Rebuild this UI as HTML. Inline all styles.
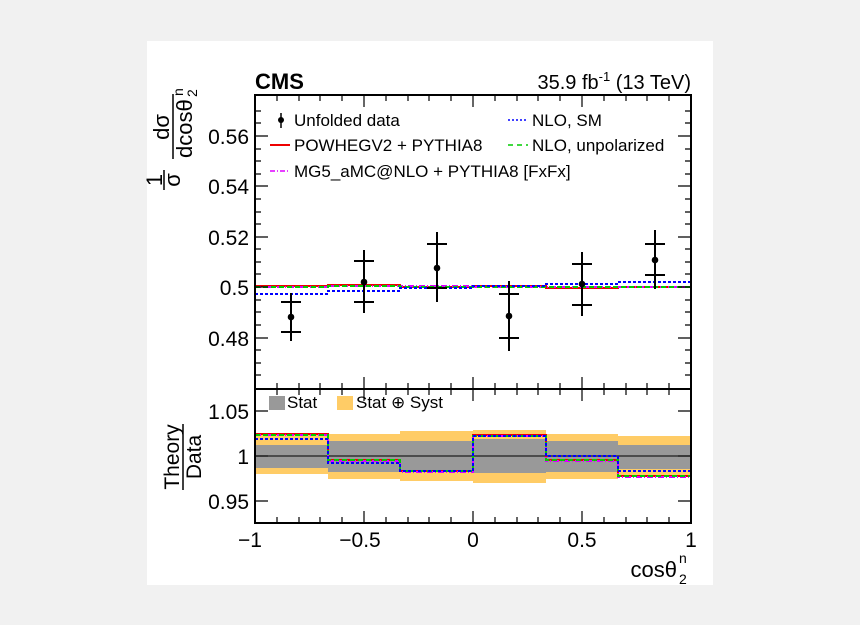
<!DOCTYPE html>
<html><head><meta charset="utf-8"><style>
html,body{margin:0;padding:0;background:#f1f1f1;}
svg{display:block;font-family:"Liberation Sans",sans-serif;}
</style></head><body>
<svg width="860" height="625" viewBox="0 0 860 625" xmlns="http://www.w3.org/2000/svg">
<rect x="0" y="0" width="860" height="625" fill="#f1f1f1"/>
<rect x="147" y="41" width="566" height="544" fill="#fff"/>

<g>
<rect x="255" y="433" width="73" height="41" fill="#ffcc66"/><rect x="255" y="445" width="73" height="23" fill="#999"/>
<rect x="328" y="434" width="72" height="45" fill="#ffcc66"/><rect x="328" y="441" width="72" height="31" fill="#999"/>
<rect x="400" y="431" width="73" height="50" fill="#ffcc66"/><rect x="400" y="441" width="73" height="31" fill="#999"/>
<rect x="473" y="430" width="73" height="53" fill="#ffcc66"/><rect x="473" y="439" width="73" height="34" fill="#999"/>
<rect x="546" y="434" width="72" height="45" fill="#ffcc66"/><rect x="546" y="441" width="72" height="31" fill="#999"/>
<rect x="618" y="436" width="73" height="41" fill="#ffcc66"/><rect x="618" y="445" width="73" height="24" fill="#999"/>
</g>
<line x1="255" y1="456" x2="691" y2="456" stroke="#000" stroke-width="1"/>
<polyline points="255,434 328,434 328,460 400,460 400,471 473,471 473,435 546,435 546,460 618,460 618,476 691,476" fill="none" stroke="#e00" stroke-width="2"/>
<polyline points="255,435 328,435 328,461 400,461 400,472 473,472 473,436 546,436 546,461 618,461 618,477 691,477" fill="none" stroke="#d0f" stroke-width="2" stroke-dasharray="6,2,1,2"/>
<polyline points="255,435 328,435 328,460 400,460 400,471 473,471 473,436 546,436 546,460 618,460 618,476 691,476" fill="none" stroke="#0c0" stroke-width="2" stroke-dasharray="5,3"/>
<polyline points="255,439 328,439 328,463 400,463 400,471 473,471 473,436 546,436 546,456 618,456 618,471 691,471" fill="none" stroke="#00f" stroke-width="2" stroke-dasharray="3,2"/>

<polyline points="255,286 328,286 328,285 400,285 400,287 473,287 473,286 546,286 546,288 618,288 618,287 691,287" fill="none" stroke="#e00" stroke-width="2"/>
<polyline points="255,287 328,287 328,286 400,286 400,286 473,286 473,287 546,287 546,287 618,287 618,287 691,287" fill="none" stroke="#d0f" stroke-width="2" stroke-dasharray="6,2,1,2"/>
<polyline points="255,287 328,287 328,286 400,286 400,287 473,287 473,287 546,287 546,287 618,287 618,287 691,287" fill="none" stroke="#0c0" stroke-width="2" stroke-dasharray="5,3"/>
<polyline points="255,294 328,294 328,291 400,291 400,288 473,288 473,286 546,286 546,284 618,284 618,282 691,282" fill="none" stroke="#00f" stroke-width="2" stroke-dasharray="3,2"/>

<g stroke="#000" stroke-width="2">
<line x1="291" y1="293" x2="291" y2="341"/><line x1="281" y1="302" x2="301" y2="302"/><line x1="281" y1="332" x2="301" y2="332"/>
<line x1="364" y1="250" x2="364" y2="313"/><line x1="354" y1="261" x2="374" y2="261"/><line x1="354" y1="302" x2="374" y2="302"/>
<line x1="437" y1="232" x2="437" y2="302"/><line x1="427" y1="244" x2="447" y2="244"/><line x1="427" y1="288" x2="447" y2="288"/>
<line x1="509" y1="281" x2="509" y2="351"/><line x1="499" y1="294" x2="519" y2="294"/><line x1="499" y1="338" x2="519" y2="338"/>
<line x1="582" y1="252" x2="582" y2="316"/><line x1="572" y1="264" x2="592" y2="264"/><line x1="572" y1="305" x2="592" y2="305"/>
<line x1="655" y1="230" x2="655" y2="289"/><line x1="645" y1="244" x2="665" y2="244"/><line x1="645" y1="275" x2="665" y2="275"/>
</g>
<g fill="#000"><circle cx="291" cy="317" r="3.3"/><circle cx="364" cy="282" r="3.3"/><circle cx="437" cy="268" r="3.3"/><circle cx="509" cy="316" r="3.3"/><circle cx="582" cy="284" r="3.3"/><circle cx="655" cy="260" r="3.3"/></g>

<g stroke="#000" stroke-width="1.2">
<path d="M364,95v12M473,95v12M582,95v12M364,389v-12M473,389v-12M582,389v-12M364,389v12M473,389v12M582,389v12M364,523v-12M473,523v-12M582,523v-12"/>
<path d="M277,95v6M299,95v6M320,95v6M342,95v6M386,95v6M408,95v6M429,95v6M451,95v6M495,95v6M517,95v6M538,95v6M560,95v6M604,95v6M626,95v6M647,95v6M669,95v6
M277,389v-6M299,389v-6M320,389v-6M342,389v-6M386,389v-6M408,389v-6M429,389v-6M451,389v-6M495,389v-6M517,389v-6M538,389v-6M560,389v-6M604,389v-6M626,389v-6M647,389v-6M669,389v-6
M277,389v6M299,389v6M320,389v6M342,389v6M386,389v6M408,389v6M429,389v6M451,389v6M495,389v6M517,389v6M538,389v6M560,389v6M604,389v6M626,389v6M647,389v6M669,389v6
M277,523v-6M299,523v-6M320,523v-6M342,523v-6M386,523v-6M408,523v-6M429,523v-6M451,523v-6M495,523v-6M517,523v-6M538,523v-6M560,523v-6M604,523v-6M626,523v-6M647,523v-6M669,523v-6"/>
<path d="M255,136h13M255,186h13M255,237h13M255,287h13M255,338h13M691,136h-13M691,186h-13M691,237h-13M691,287h-13M691,338h-13
M255,111h6M255,123h6M255,149h6M255,161h6M255,174h6M255,199h6M255,212h6M255,224h6M255,249h6M255,262h6M255,274h6M255,300h6M255,312h6M255,325h6M255,350h6M255,363h6M255,375h6
M691,111h-6M691,123h-6M691,149h-6M691,161h-6M691,174h-6M691,199h-6M691,212h-6M691,224h-6M691,249h-6M691,262h-6M691,274h-6M691,300h-6M691,312h-6M691,325h-6M691,350h-6M691,363h-6M691,375h-6"/>
<path d="M255,411h13M255,456h13M255,501h13M691,411h-13M691,456h-13M691,501h-13"/>
</g>
<rect x="255" y="95" width="436" height="294" fill="none" stroke="#000" stroke-width="2"/>
<rect x="255" y="389" width="436" height="134" fill="none" stroke="#000" stroke-width="2"/>

<text x="255" y="89" font-size="22" font-weight="bold">CMS</text>
<text x="691" y="89" font-size="20" text-anchor="end">35.9 fb<tspan font-size="13" dy="-8">-1</tspan><tspan dy="8"> (13 TeV)</tspan></text>
<g font-size="21" text-anchor="end">
<text x="249" y="144">0.56</text><text x="249" y="194">0.54</text><text x="249" y="245">0.52</text><text x="249" y="295">0.5</text><text x="249" y="346">0.48</text>
<text x="249" y="419">1.05</text><text x="249" y="464">1</text><text x="249" y="509">0.95</text>
</g>
<g font-size="21" text-anchor="middle">
<text x="250" y="547">−1</text><text x="360" y="547">−0.5</text><text x="473" y="547">0</text><text x="582" y="547">0.5</text><text x="691" y="547">1</text>
</g>
<text x="677" y="577" font-size="22" text-anchor="end">cosθ</text>
<text x="679" y="584" font-size="14">2</text><text x="679" y="563" font-size="14">n</text>

<g transform="translate(173,230) rotate(-90)" font-size="22">
<text x="50" y="-11" text-anchor="middle">1</text>
<line x1="40" y1="-9" x2="60" y2="-9" stroke="#000" stroke-width="1.5"/>
<text x="50" y="7" text-anchor="middle">σ</text>
<text x="103" y="-4" text-anchor="middle">dσ</text>
<line x1="71" y1="0" x2="136" y2="0" stroke="#000" stroke-width="1.5"/>
<text x="72" y="19">dcosθ</text>
<text x="133" y="24" font-size="14">2</text><text x="134" y="10" font-size="14">n</text>
</g>
<g transform="translate(183,457) rotate(-90)" font-size="21" text-anchor="middle">
<text x="0" y="-4">Theory</text>
<line x1="-33" y1="0" x2="33" y2="0" stroke="#000" stroke-width="1.5"/>
<text x="0" y="18">Data</text>
</g>

<g font-size="17">
<line x1="281" y1="113" x2="281" y2="128" stroke="#000" stroke-width="1.5"/><circle cx="281" cy="120" r="3" fill="#000"/>
<text x="294" y="126">Unfolded data</text>
<line x1="270" y1="145" x2="290" y2="145" stroke="#e00" stroke-width="2"/>
<text x="294" y="151">POWHEGV2 + PYTHIA8</text>
<line x1="270" y1="171" x2="290" y2="171" stroke="#d0f" stroke-width="1.5" stroke-dasharray="5,2,1,2"/>
<text x="294" y="177">MG5_aMC@NLO + PYTHIA8 [FxFx]</text>
<line x1="508" y1="120" x2="528" y2="120" stroke="#00f" stroke-width="1.5" stroke-dasharray="2,2"/>
<text x="532" y="126">NLO, SM</text>
<line x1="508" y1="145" x2="528" y2="145" stroke="#0c0" stroke-width="1.5" stroke-dasharray="5,4"/>
<text x="532" y="151">NLO, unpolarized</text>
<rect x="269" y="396" width="16" height="14" fill="#999"/>
<text x="287" y="408">Stat</text>
<rect x="337" y="396" width="16" height="14" fill="#ffcc66"/>
<text x="356" y="408">Stat ⊕ Syst</text>
</g>
</svg>
</body></html>
